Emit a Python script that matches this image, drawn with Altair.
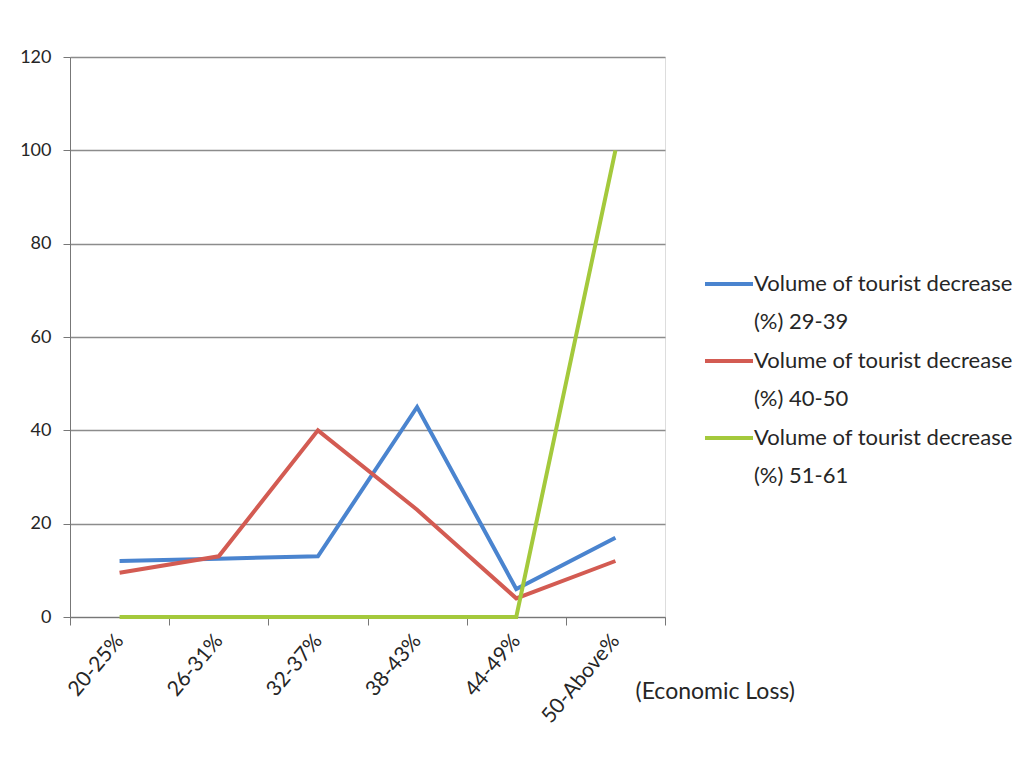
import json
import altair as alt
import pandas as pd

categories = ["20-25%", "26-31%", "32-37%", "38-43%", "44-49%", "50-Above%"]
series_names = [
    "Volume of tourist decrease (%) 29-39",
    "Volume of tourist decrease (%) 40-50",
    "Volume of tourist decrease (%) 51-61",
]
legend_line1 = ["Volume of tourist decrease"] * 3
legend_line2 = ["(%) 29-39", "(%) 40-50", "(%) 51-61"]
blue_values = [12, 12.5, 13, 45, 6, 17]
red_values = [9.5, 13, 40, 23, 4, 12]
green_values = [0, 0, 0, 0, 0, 100]
y_ticks = [0, 20, 40, 60, 80, 100, 120]
colors = ["#4a84cf", "#d35b52", "#a4c93c"]

rows = []
for name, vals in zip(series_names, [blue_values, red_values, green_values]):
    for i, (cat, v) in enumerate(zip(categories, vals)):
        rows.append({"series": name, "category": cat, "pos": i + 0.5, "value": v})
df = pd.DataFrame(rows)

legend_df = pd.DataFrame(
    {
        "series": series_names,
        "row": list(range(len(series_names))),
        "line1": legend_line1,
        "line2": legend_line2,
    }
)

n = len(categories)
x_vals = [k / 2 for k in range(2 * n + 1)]
label_expr = (
    "datum.value % 1 === 0 ? '' : " + json.dumps(categories) + "[floor(datum.value)]"
)

FONT = "Lato"
TXT = "#262626"
W, H = 595, 560

color_enc = alt.Color(
    "series:N", scale=alt.Scale(domain=series_names, range=colors), legend=None
)

lines = (
    alt.Chart(df)
    .mark_line(strokeWidth=4)
    .encode(
        x=alt.X(
            "pos:Q",
            scale=alt.Scale(domain=[0, n], nice=False, zero=False),
            axis=alt.Axis(
                values=x_vals,
                labelExpr=label_expr,
                labelAngle=-50,
                labelAlign="right",
                labelBaseline="middle",
                labelFontSize=21,
                labelPadding=12,
                labelColor=TXT,
                labelFont=FONT,
                tickSize=8,
                tickColor="#777777",
                tickOpacity={"condition": {"test": "datum.value % 1 === 0", "value": 1}, "value": 0},
                domainColor="#777777",
                grid=False,
                labelOverlap=False,
                title="(Economic Loss)",
                titleFont=FONT,
                titleFontSize=23,
                titleFontWeight="normal",
                titleColor=TXT,
                titleAlign="left",
                titleBaseline="middle",
                titleX=565,
                titleY=74,
            ),
        ),
        y=alt.Y(
            "value:Q",
            scale=alt.Scale(domain=[0, 120], nice=False),
            axis=alt.Axis(
                values=y_ticks,
                labelFontSize=18,
                labelFont=FONT,
                labelColor=TXT,
                labelPadding=12,
                tickSize=7,
                tickColor="#777777",
                domainColor="#777777",
                gridColor="#8c8c8c",
                gridWidth=1.3,
                title=None,
            ),
        ),
        color=color_enc,
    )
)

legend_y = alt.Y(
    "row:Q",
    scale=alt.Scale(domain=[0, len(series_names) - 1], range=[227, 381]),
    axis=None,
)

legend_symbols = (
    alt.Chart(legend_df)
    .mark_rule(strokeWidth=4)
    .encode(x=alt.value(635), x2=alt.value(683), y=legend_y, color=color_enc)
)
legend_text1 = (
    alt.Chart(legend_df)
    .mark_text(align="left", baseline="middle", font=FONT, fontSize=22, color=TXT)
    .encode(x=alt.value(684), y=legend_y, text="line1:N")
)
legend_text2 = (
    alt.Chart(legend_df)
    .mark_text(align="left", baseline="middle", font=FONT, fontSize=22, color=TXT, dy=38)
    .encode(x=alt.value(684), y=legend_y, text="line2:N")
)

chart = (
    alt.layer(lines, legend_symbols, legend_text1, legend_text2)
    .resolve_scale(y="independent")
    .properties(
        width=W,
        height=H,
        autosize=alt.AutoSizeParams(type="none"),
        padding={"left": 70, "top": 57, "right": 1033 - 70 - W, "bottom": 758 - 57 - H},
    )
    .configure_view(stroke=None)
    .configure(background="white")
)

chart.save("out.html", embed_options={"renderer": "svg", "actions": False})
